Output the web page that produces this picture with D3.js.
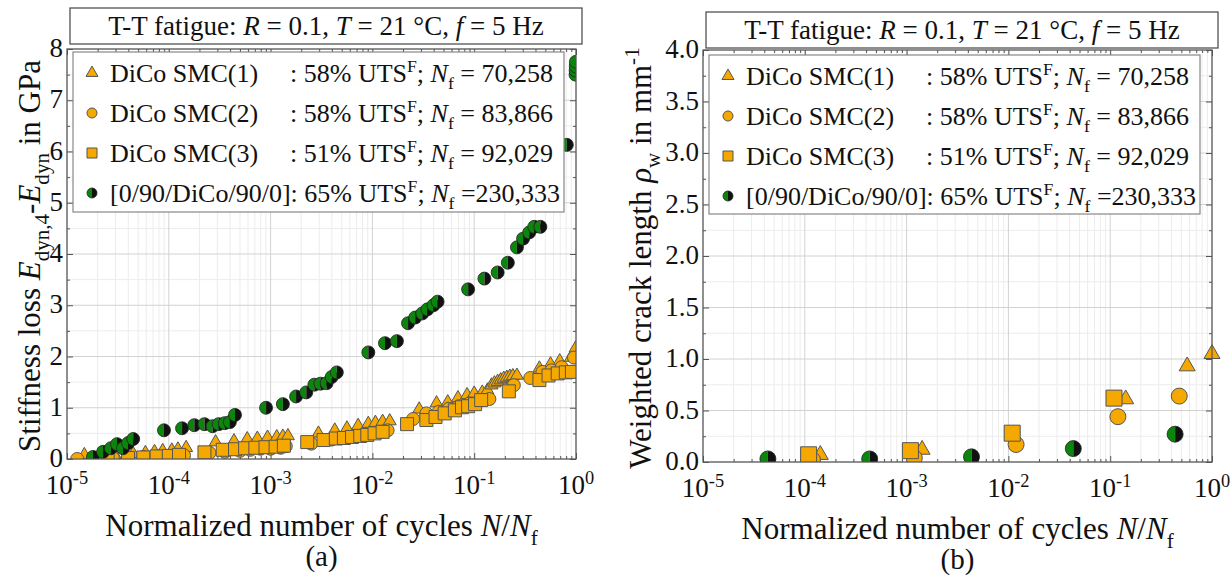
<!DOCTYPE html>
<html>
<head>
<meta charset="utf-8">
<script src="https://cdn.jsdelivr.net/npm/d3@7"></script>
<style>
  body { margin: 0; background: #fff; }
  text, tspan { font-family: "Liberation Serif", Tinos, "Times New Roman", "DejaVu Serif", serif; fill: #111; }
</style>
</head>
<body>
<div id="chart"></div>
<script>
// ---- data: [N/Nf, value] ----

// (a) stiffness loss in GPa
var stiffSMC1 = [[1.48e-5,0.08],[2.95e-5,0.08],[4.47e-5,0.10],[5.89e-5,0.12],[7.24e-5,0.14],[8.71e-5,0.16],
  [1.07e-4,0.17],[1.23e-4,0.19],[1.48e-4,0.22],[2.88e-4,0.33],[4.37e-4,0.35],[5.89e-4,0.39],[7.41e-4,0.40],
  [9.33e-4,0.42],[1.15e-3,0.43],[1.32e-3,0.44],[1.48e-3,0.45],[2.95e-3,0.50],[4.27e-3,0.56],[5.62e-3,0.60],
  [7.24e-3,0.65],[9.12e-3,0.69],[1.07e-2,0.71],[1.26e-2,0.73],[1.48e-2,0.74],[2.88e-2,0.97],[4.27e-2,1.09],
  [5.50e-2,1.11],[6.92e-2,1.19],[8.51e-2,1.25],[0.100,1.28],[0.120,1.30],[0.135,1.34],[0.148,1.44],[0.158,1.48],
  [0.170,1.51],[0.182,1.54],[0.195,1.57],[0.209,1.59],[0.224,1.61],[0.240,1.62],[0.263,1.63],[0.437,1.77],
  [0.562,1.85],[0.692,1.91],[0.891,1.98],[0.99,2.16]];
var stiffSMC2 = [[1.26e-5,0.00],[2.82e-5,0.02],[3.98e-5,0.03],[5.62e-5,0.04],[7.94e-5,0.05],[1.12e-4,0.06],
  [1.41e-4,0.07],[2.51e-4,0.12],[3.55e-4,0.14],[5.01e-4,0.16],[6.31e-4,0.18],[7.94e-4,0.20],[1.00e-3,0.20],
  [1.26e-3,0.22],[1.41e-3,0.25],[2.51e-3,0.30],[3.98e-3,0.38],[5.62e-3,0.42],[7.94e-3,0.46],[1.00e-2,0.50],
  [1.26e-2,0.53],[1.41e-2,0.56],[2.51e-2,0.78],[3.39e-2,0.89],[4.47e-2,0.92],[5.62e-2,0.98],[7.08e-2,1.03],
  [8.91e-2,1.08],[0.112,1.13],[0.141,1.17],[0.245,1.44],[0.355,1.58],[0.468,1.70],[0.575,1.73],[0.724,1.79],
  [0.955,1.98]];
var stiffSMC3 = [[2.51e-5,0.01],[3.98e-5,0.02],[5.62e-5,0.03],[7.59e-5,0.05],[1.00e-4,0.06],[1.26e-4,0.08],
  [2.24e-4,0.13],[3.39e-4,0.18],[4.47e-4,0.19],[5.62e-4,0.21],[7.08e-4,0.22],[8.91e-4,0.23],[1.12e-3,0.24],
  [1.35e-3,0.26],[2.29e-3,0.33],[3.31e-3,0.37],[4.37e-3,0.40],[5.25e-3,0.41],[6.31e-3,0.43],[7.59e-3,0.45],
  [8.91e-3,0.47],[1.05e-2,0.50],[1.26e-2,0.53],[2.19e-2,0.68],[3.39e-2,0.76],[4.17e-2,0.82],[5.13e-2,0.89],
  [6.46e-2,0.95],[7.59e-2,1.01],[8.71e-2,1.03],[0.102,1.07],[0.117,1.15],[0.219,1.32],[0.437,1.54],
  [0.537,1.63],[0.661,1.67],[0.794,1.69],[0.912,1.70]];
var stiffLam = [[1.80e-5,0.04],[2.26e-5,0.14],[2.70e-5,0.21],[3.10e-5,0.29],[3.55e-5,0.21],[3.98e-5,0.31],
  [4.47e-5,0.39],[8.97e-5,0.56],[1.35e-4,0.60],[1.78e-4,0.66],[2.24e-4,0.68],[2.69e-4,0.64],[3.09e-4,0.68],
  [3.55e-4,0.70],[3.98e-4,0.72],[4.47e-4,0.86],[9.02e-4,1.00],[1.32e-3,1.07],[1.78e-3,1.22],[2.24e-3,1.30],
  [2.69e-3,1.45],[3.09e-3,1.47],[3.55e-3,1.48],[3.98e-3,1.60],[4.47e-3,1.69],[9.12e-3,2.08],[1.33e-2,2.26],
  [1.74e-2,2.30],[2.24e-2,2.65],[2.63e-2,2.76],[3.09e-2,2.84],[3.47e-2,2.92],[3.98e-2,3.00],[4.37e-2,3.07],
  [8.71e-2,3.31],[0.126,3.52],[0.170,3.64],[0.214,3.83],[0.263,4.13],[0.302,4.30],[0.347,4.42],[0.389,4.53],
  [0.447,4.53],[0.813,6.13],[0.990,7.50],[0.992,7.58],[0.995,7.66],[0.998,7.75]];

// (b) weighted crack length in 1/mm
var crackSMC1 = [[1.42e-4,0.07],[1.42e-3,0.12],[0.142,0.61],[0.57,0.93],[1.0,1.05]];
var crackSMC2 = [[1.19e-4,0.02],[1.19e-3,0.04],[1.19e-2,0.17],[0.119,0.44],[0.477,0.64]];
var crackSMC3 = [[1.09e-4,0.07],[1.09e-3,0.11],[1.09e-2,0.28],[0.109,0.62]];
var crackLam = [[4.34e-5,0.03],[4.34e-4,0.03],[4.34e-3,0.05],[4.34e-2,0.13],[0.434,0.27]];

// tick values
var decades = [1e-5, 1e-4, 1e-3, 1e-2, 1e-1, 1];
var decadeExp = ["-5", "-4", "-3", "-2", "-1", "0"];
var stiffTicks = [0, 1, 2, 3, 4, 5, 6, 7, 8];
var crackTicks = [0, 0.5, 1.0, 1.5, 2.0, 2.5, 3.0, 3.5, 4.0];

// legend labels
var legendNames = ["DiCo SMC(1)", "DiCo SMC(2)", "DiCo SMC(3)"];
var legendLoads = ["58", "58", "51"];
var legendNf = ["70,258", "83,866", "92,029"];

var ORANGE = "#f4a800", GREEN = "#0c850c";
var FONT = "'Liberation Serif', Tinos, 'Times New Roman', 'DejaVu Serif', serif";

var svg = d3.select("#chart").append("svg")
    .attr("width", 1231)
    .attr("height", 577)
    .style("font-family", FONT);

// append text made of parts: [string, "i" | "sub" | "sup" | ""]
function richText(sel, parts, fs) {
    var cur = 0;
    sel.style("font-family", FONT).style("font-size", fs + "px");
    parts.forEach(function(p) {
        var off = 0, size = fs;
        if (p[1] == "sub") { off = 0.28 * fs; size = 0.68 * fs; }
        if (p[1] == "sup") { off = -0.38 * fs; size = 0.68 * fs; }
        var ts = sel.append("tspan").text(p[0]).attr("dy", off - cur);
        if (size != fs) ts.style("font-size", size + "px");
        if (p[1] == "i") ts.style("font-style", "italic");
        cur = off;
    });
    return sel;
}

function marker(g, shape, px, py, s) {
    if (shape == "half") {
        var r = s;
        g.append("path")
            .attr("d", "M" + px + "," + (py - r) + "A" + r + "," + r + " 0 0,0 " + px + "," + (py + r) + "Z")
            .attr("fill", GREEN);
        g.append("path")
            .attr("d", "M" + px + "," + (py - r) + "A" + r + "," + r + " 0 0,1 " + px + "," + (py + r) + "Z")
            .attr("fill", "#111");
        g.append("circle").attr("cx", px).attr("cy", py).attr("r", r)
            .attr("fill", "none").attr("stroke", "#222").attr("stroke-width", 0.8);
        return;
    }
    var type = shape == "tri" ? d3.symbolTriangle : shape == "sq" ? d3.symbolSquare : d3.symbolCircle;
    var area = shape == "tri" ? s * s * 0.433 : shape == "sq" ? s * s : Math.PI * s * s / 4;
    g.append("path")
        .attr("d", d3.symbol().type(type).size(area)())
        .attr("transform", "translate(" + px + "," + py + ")")
        .attr("fill", ORANGE)
        .attr("stroke", "#555")
        .attr("stroke-width", 1);
}

function drawPanel(c) {
    var x = d3.scaleLog().domain([1e-5, 1]).range([c.left, c.right]);
    var y = d3.scaleLinear().domain(c.yDomain).range([c.bottom, c.top]);
    var g = svg.append("g");

    var minorX = x.ticks().filter(function(t) { return decades.indexOf(t) < 0; });
    var minorY = d3.range(c.yDomain[0], c.yDomain[1] + 1e-9, c.yMinor)
        .filter(function(t) { return c.yTicks.indexOf(+t.toFixed(3)) < 0; });

    // grid
    g.append("rect").attr("x", c.left).attr("y", c.top)
        .attr("width", c.right - c.left).attr("height", c.bottom - c.top).attr("fill", "#fff");
    g.selectAll(".gxm").data(minorX).enter().append("line")
        .attr("x1", x).attr("x2", x).attr("y1", c.top).attr("y2", c.bottom)
        .attr("stroke", "#ececec");
    g.selectAll(".gym").data(minorY).enter().append("line")
        .attr("x1", c.left).attr("x2", c.right).attr("y1", y).attr("y2", y)
        .attr("stroke", "#ececec");
    g.selectAll(".gx").data(decades).enter().append("line")
        .attr("x1", x).attr("x2", x).attr("y1", c.top).attr("y2", c.bottom)
        .attr("stroke", "#d2d2d2");
    g.selectAll(".gy").data(c.yTicks).enter().append("line")
        .attr("x1", c.left).attr("x2", c.right).attr("y1", y).attr("y2", y)
        .attr("stroke", "#d2d2d2");

    // inward ticks on all four sides
    function ticks(axisFn, scale, vals, len, tr) {
        g.append("g").attr("transform", tr)
            .call(axisFn(scale).tickValues(vals).tickSizeInner(-len).tickSizeOuter(0).tickFormat(""))
            .call(function(a) { a.select(".domain").remove(); a.selectAll("line").attr("stroke", "#555"); });
    }
    ticks(d3.axisBottom, x, decades, 6, "translate(0," + c.bottom + ")");
    ticks(d3.axisBottom, x, minorX, 3, "translate(0," + c.bottom + ")");
    ticks(d3.axisTop, x, decades, 6, "translate(0," + c.top + ")");
    ticks(d3.axisTop, x, minorX, 3, "translate(0," + c.top + ")");
    ticks(d3.axisLeft, y, c.yTicks, 6, "translate(" + c.left + ",0)");
    ticks(d3.axisLeft, y, minorY, 3, "translate(" + c.left + ",0)");
    ticks(d3.axisRight, y, c.yTicks, 6, "translate(" + c.right + ",0)");
    ticks(d3.axisRight, y, minorY, 3, "translate(" + c.right + ",0)");

    // markers
    var clipId = "clip" + c.name;
    svg.append("clipPath").attr("id", clipId).append("rect")
        .attr("x", c.left).attr("y", c.top - 20)
        .attr("width", c.right - c.left + (c.clip ? 0 : 20)).attr("height", c.bottom - c.top + 20);
    var pts = g.append("g").attr("clip-path", "url(#" + clipId + ")");
    c.series.forEach(function(s) {
        s.data.forEach(function(d) {
            marker(pts, s.shape, x(d[0]), y(d[1]), s.shape == "half" ? c.size / 2 : c.size);
        });
    });

    // frame
    g.append("rect").attr("x", c.left).attr("y", c.top)
        .attr("width", c.right - c.left).attr("height", c.bottom - c.top)
        .attr("fill", "none").attr("stroke", "#555").attr("stroke-width", 1.2);

    // y tick labels
    g.selectAll(".yl").data(c.yTicks).enter().append("text")
        .attr("x", c.left - 4).attr("y", function(d) { return y(d) + 8; })
        .attr("text-anchor", "end").style("font-size", "27px").style("font-family", FONT)
        .text(c.yFormat);

    // x tick labels 10^n
    decades.forEach(function(t, i) {
        richText(g.append("text").attr("x", x(t)).attr("y", c.bottom + 35)
            .attr("text-anchor", "middle"),
            [["10", ""], [decadeExp[i], "sup"]], 27);
    });

    // axis titles and caption
    var mid = (c.left + c.right) / 2;
    richText(g.append("text").attr("x", mid).attr("y", c.xTitleY)
        .attr("text-anchor", "middle"),
        [["Normalized number of cycles ", ""], ["N", "i"], ["/", ""], ["N", "i"], ["f", "sub"]], 31);
    g.append("text").attr("x", mid).attr("y", c.capY).style("font-family", FONT)
        .attr("text-anchor", "middle").style("font-size", "29px").text(c.caption);
    richText(g.append("text")
        .attr("transform", "translate(" + c.yTitleX + "," + ((c.top + c.bottom) / 2 + 2) + ") rotate(-90)")
        .attr("text-anchor", "middle"), c.yTitle, 31);

    // title box
    g.append("rect").attr("x", c.tBox[0]).attr("y", c.tBox[1])
        .attr("width", c.tBox[2] - c.tBox[0]).attr("height", c.tBox[3] - c.tBox[1])
        .attr("fill", "#fff").attr("stroke", "#444").attr("stroke-width", 1.2);
    richText(g.append("text").attr("x", (c.tBox[0] + c.tBox[2]) / 2).attr("y", c.tBox[3] - 9)
        .attr("text-anchor", "middle"),
        [["T-T fatigue: ", ""], ["R", "i"], [" = 0.1, ", ""], ["T", "i"], [" = 21 \u00b0C, ", ""],
         ["f", "i"], [" = 5 Hz", ""]], 27);

    // legend
    var L = c.lBox;
    g.append("rect").attr("x", L[0]).attr("y", L[1])
        .attr("width", L[2] - L[0]).attr("height", L[3] - L[1])
        .attr("fill", "#fff").attr("stroke", "#888").attr("stroke-width", 1.2);
    var shapes = ["tri", "circ", "sq", "half"];
    for (var i = 0; i < 4; i++) {
        var ry = L[1] + 21 + i * 40;
        marker(g, shapes[i], L[0] + 19, ry, shapes[i] == "half" ? 5 : (shapes[i] == "tri" ? 12 : 10));
        var t1 = g.append("text").attr("x", L[0] + 37).attr("y", ry + 9)
            .style("font-size", "26px").style("font-family", FONT);
        if (i < 3) {
            t1.text(legendNames[i]);
            richText(g.append("text").attr("x", L[0] + 217).attr("y", ry + 9),
                [[": " + legendLoads[i] + "% UTS", ""], ["F", "sup"], ["; ", ""], ["N", "i"], ["f", "sub"],
                 [" = " + legendNf[i], ""]], 26);
        } else {
            richText(t1, [["[0/90/DiCo/90/0]: 65% UTS", ""], ["F", "sup"], ["; ", ""], ["N", "i"], ["f", "sub"],
                [" =230,333", ""]], 26);
        }
    }
}

drawPanel({
    name: "a", left: 67, right: 576, top: 49, bottom: 459,
    yDomain: [0, 8], yTicks: stiffTicks, yMinor: 0.5, yFormat: d3.format("d"),
    size: 13, clip: true,
    series: [{data: stiffSMC1, shape: "tri"}, {data: stiffSMC2, shape: "circ"},
             {data: stiffSMC3, shape: "sq"}, {data: stiffLam, shape: "half"}],
    tBox: [70, 8, 582, 44], lBox: [73, 52, 564, 212],
    xTitleY: 536, capY: 566, caption: "(a)", yTitleX: 40,
    yTitle: [["Stiffness loss ", ""], ["E", "i"], ["dyn,4", "sub"], ["-", ""], ["E", "i"], ["dyn", "sub"], [" in GPa", ""]]
});

drawPanel({
    name: "b", left: 703, right: 1212, top: 50, bottom: 462,
    yDomain: [0, 4], yTicks: crackTicks, yMinor: 0.25, yFormat: d3.format(".1f"),
    size: 16, clip: false,
    series: [{data: crackSMC1, shape: "tri"}, {data: crackSMC2, shape: "circ"},
             {data: crackSMC3, shape: "sq"}, {data: crackLam, shape: "half"}],
    tBox: [706, 12, 1218, 48], lBox: [709, 55, 1200, 214],
    xTitleY: 539, capY: 569, caption: "(b)", yTitleX: 651,
    yTitle: [["Weighted crack length ", ""], ["\u03c1", "i"], ["w", "sub"], [" in mm", ""], ["-1", "sup"]]
});
</script>
</body>
</html>
